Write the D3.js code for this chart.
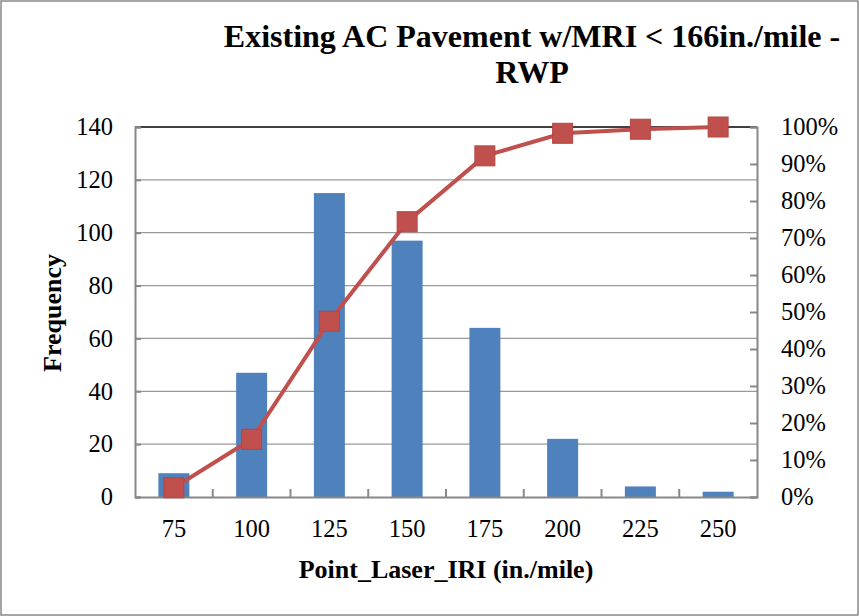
<!DOCTYPE html>
<html><head><meta charset="utf-8">
<script src="https://cdn.jsdelivr.net/npm/d3@7"></script>
<style>body{margin:0;background:#fff}svg{display:block}</style>
</head><body>
<script>
const categories = ["75","100","125","150","175","200","225","250"];
const frequency = [9,47,115,97,64,22,4,2];
const cumulativePct = [0.025,0.156,0.475,0.744,0.922,0.983,0.994,1.0];
const leftTicks = [0,20,40,60,80,100,120,140];
const rightTicks = [0,0.1,0.2,0.3,0.4,0.5,0.6,0.7,0.8,0.9,1.0];

const W=859,H=616;
const m={l:135,r:757,t:127,b:497};
const svg=d3.select("body").append("svg").attr("width",W).attr("height",H);
const font="'Liberation Serif','Times New Roman',serif";
svg.append("rect").attr("x",1).attr("y",1).attr("width",W-2).attr("height",H-2).attr("fill","#fff").attr("stroke","#888").attr("stroke-width",1.5);

const x=d3.scaleBand().domain(categories).range([m.l,m.r]);
const yL=d3.scaleLinear().domain([0,140]).range([m.b,m.t]);
const yR=d3.scaleLinear().domain([0,1]).range([m.b,m.t]);

// gridlines
svg.append("g").selectAll("line").data(leftTicks.slice(1,-1)).join("line")
 .attr("x1",m.l).attr("x2",m.r).attr("y1",d=>yL(d)).attr("y2",d=>yL(d))
 .attr("stroke","#999").attr("stroke-width",1.3);
svg.append("line").attr("x1",m.l).attr("x2",m.r).attr("y1",m.t).attr("y2",m.t).attr("stroke","#000").attr("stroke-width",1.3);

// bars
const bw=31;
svg.append("g").selectAll("rect").data(frequency).join("rect")
 .attr("x",(d,i)=>x(categories[i])+x.bandwidth()/2-bw/2)
 .attr("width",bw).attr("y",d=>yL(d)).attr("height",d=>yL(0)-yL(d)).attr("fill","#4F81BD");

// axes
const axL=svg.append("g").attr("transform",`translate(${m.l},0)`)
 .call(d3.axisLeft(yL).tickValues(leftTicks).tickSize(-6).tickPadding(22));
const axR=svg.append("g").attr("transform",`translate(${m.r},0)`)
 .call(d3.axisRight(yR).tickValues(rightTicks).tickFormat(d3.format(".0%")).tickSize(-7).tickPadding(24));
const axB=svg.append("g").attr("transform",`translate(0,${m.b})`)
 .call(d3.axisBottom(x).tickSize(0).tickPadding(23));
[axL,axR,axB].forEach(a=>{
 a.attr("font-family",font).attr("font-size",24);
 a.selectAll("path.domain").attr("stroke","#888").attr("stroke-width",2);
 a.selectAll("line").attr("stroke","#888").attr("stroke-width",2);
 a.selectAll("text").style("font-family",font).style("font-size","24.5px").attr("fill","#000");
});
axR.selectAll("text").attr("text-anchor","start");
// category boundary ticks
svg.append("g").selectAll("line").data(categories.slice(1)).join("line")
 .attr("x1",d=>x(d)).attr("x2",d=>x(d)).attr("y1",m.b).attr("y2",m.b-8)
 .attr("stroke","#888").attr("stroke-width",2);

// line
const pts=cumulativePct.map((v,i)=>[x(categories[i])+x.bandwidth()/2,yR(v)]);
svg.append("path").attr("d",d3.line()(pts)).attr("fill","none").attr("stroke","#C0504D").attr("stroke-width",4);
svg.append("g").selectAll("rect").data(pts).join("rect")
 .attr("x",d=>d[0]-10).attr("y",d=>d[1]-10).attr("width",20).attr("height",20)
 .attr("fill","#C0504D").attr("stroke","#B8453F").attr("stroke-width",1);

// titles
svg.append("text").attr("x",532).attr("y",47).attr("text-anchor","middle")
 .style("font-family",font).attr("font-weight","bold").style("font-size","32px")
 .text("Existing AC Pavement w/MRI < 166in./mile -");
svg.append("text").attr("x",532).attr("y",83).attr("text-anchor","middle")
 .style("font-family",font).attr("font-weight","bold").style("font-size","32px")
 .text("RWP");
svg.append("text").attr("transform","translate(61,313) rotate(-90)").attr("text-anchor","middle")
 .style("font-family",font).attr("font-weight","bold").style("font-size","26px").text("Frequency");
svg.append("text").attr("x",446).attr("y",578).attr("text-anchor","middle")
 .style("font-family",font).attr("font-weight","bold").style("font-size","26px").text("Point_Laser_IRI (in./mile)");
</script>
</body></html>
